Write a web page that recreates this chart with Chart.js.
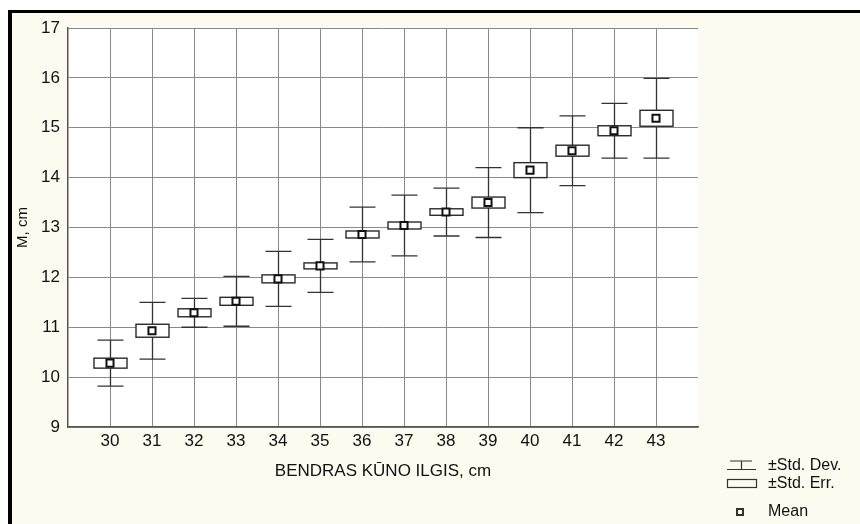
<!DOCTYPE html>
<html>
<head>
<meta charset="utf-8">
<script src="https://cdn.jsdelivr.net/npm/chart.js@4/dist/chart.umd.min.js"></script>
<style>
  html, body { margin: 0; padding: 0; background: #fff; }
  #frame {
    position: absolute; left: 8px; top: 10px; width: 852px; height: 514px;
    border-top: 3px solid #000; border-left: 4px solid #000;
    background: #fdfbef; box-sizing: border-box;
  }
  #graf { position: absolute; left: 0; top: 0; }
</style>
</head>
<body>
<div id="frame"></div>
<canvas id="graf" width="860" height="524"></canvas>
<script>
// body length groups (cm) and measured M (cm)
const lengths = [30, 31, 32, 33, 34, 35, 36, 37, 38, 39, 40, 41, 42, 43];
const means   = [10.28, 10.93, 11.29, 11.52, 11.97, 12.23, 12.86, 13.04, 13.31, 13.50, 14.15, 14.54, 14.94, 15.19];
const stdDev  = [0.46, 0.57, 0.29, 0.50, 0.55, 0.53, 0.55, 0.61, 0.48, 0.70, 0.85, 0.70, 0.55, 0.80];
const stdErr  = [0.10, 0.13, 0.08, 0.08, 0.08, 0.06, 0.07, 0.07, 0.065, 0.11, 0.15, 0.11, 0.10, 0.16];
const yTicks  = [9, 10, 11, 12, 13, 14, 15, 16, 17];

const FONT = "'Liberation Sans', Arial, sans-serif";

// white plot background + whiskers and boxes under the mean points
const klaidos = {
  id: "klaidos",
  beforeDraw(chart) {
    const a = chart.chartArea, ctx = chart.ctx;
    ctx.save();
    ctx.fillStyle = "#fff";
    ctx.fillRect(a.left, a.top, a.right - a.left, a.bottom - a.top);
    ctx.restore();
  },
  beforeDatasetsDraw(chart) {
    const x = chart.scales.x, y = chart.scales.y, ctx = chart.ctx;
    ctx.save();
    for (let i = 0; i < lengths.length; i++) {
      const px = Math.round(x.getPixelForValue(lengths[i])) + 0.5;
      const top = y.getPixelForValue(means[i] + stdDev[i]);
      const bot = y.getPixelForValue(means[i] - stdDev[i]);
      ctx.strokeStyle = "#333";
      ctx.lineWidth = 1.3;
      ctx.beginPath();
      ctx.moveTo(px, top); ctx.lineTo(px, bot);
      ctx.moveTo(px - 13, top); ctx.lineTo(px + 13, top);
      ctx.moveTo(px - 13, bot); ctx.lineTo(px + 13, bot);
      ctx.stroke();

      const st = y.getPixelForValue(means[i] + stdErr[i]);
      const sb = y.getPixelForValue(means[i] - stdErr[i]);
      ctx.fillStyle = "#fff";
      ctx.fillRect(px - 16.5, st, 33, sb - st);
      ctx.strokeStyle = "#2a2a2a";
      ctx.lineWidth = 1.4;
      ctx.strokeRect(px - 16.5, st, 33, sb - st);
    }
    ctx.restore();
  },
  afterDraw(chart) {
    const ctx = chart.ctx;
    ctx.save();
    ctx.strokeStyle = "#333";
    ctx.lineWidth = 1.2;
    ctx.beginPath();
    ctx.moveTo(730, 461); ctx.lineTo(752, 461);
    ctx.moveTo(727, 469.5); ctx.lineTo(756, 469.5);
    ctx.moveTo(741.5, 461); ctx.lineTo(741.5, 469.5);
    ctx.stroke();
    ctx.strokeRect(727.5, 479.5, 29, 8);
    ctx.lineWidth = 2;
    ctx.strokeRect(737, 509, 6, 6);

    ctx.fillStyle = "#111";
    ctx.font = "16px " + FONT;
    ctx.textBaseline = "middle";
    ctx.fillText("\u00b1Std. Dev.", 768, 466);
    ctx.fillText("\u00b1Std. Err.", 768, 484);
    ctx.fillText("Mean", 768, 512);
    ctx.restore();
  }
};

new Chart(document.getElementById("graf"), {
  type: "scatter",
  data: {
    datasets: [{
      label: "Mean",
      data: lengths.map((l, i) => ({ x: l, y: means[i] })),
      pointStyle: "rect",
      pointRadius: 5,
      pointBorderWidth: 2,
      pointBorderColor: "#111",
      pointBackgroundColor: "#fff"
    }]
  },
  options: {
    responsive: false,
    animation: false,
    layout: { padding: { left: 14, top: 28, right: 162, bottom: 42 } },
    plugins: { legend: { display: false }, tooltip: { enabled: false } },
    scales: {
      x: {
        type: "linear",
        min: 29, max: 44,
        afterBuildTicks: s => { s.ticks = lengths.map(v => ({ value: v })); },
        afterFit: s => { s.height = 55; },
        grid: { color: "#8a8a8a", drawTicks: false },
        border: { color: "#555", width: 1.5 },
        ticks: { color: "#111", padding: 4, font: { family: FONT, size: 17 } },
        title: { display: true, text: "BENDRAS KŪNO ILGIS, cm", color: "#111", padding: 0, font: { family: FONT, size: 17 } }
      },
      y: {
        min: 9, max: 17,
        afterBuildTicks: s => { s.ticks = yTicks.map(v => ({ value: v })); },
        afterFit: s => { s.width = 54; },
        grid: { color: "#8a8a8a", drawTicks: false },
        border: { color: "#555", width: 1.5 },
        ticks: { color: "#111", padding: 8, font: { family: FONT, size: 17 } },
        title: { display: true, text: "M, cm", color: "#111", padding: 0, font: { family: FONT, size: 15 } }
      }
    }
  },
  plugins: [klaidos]
});
</script>
</body>
</html>
